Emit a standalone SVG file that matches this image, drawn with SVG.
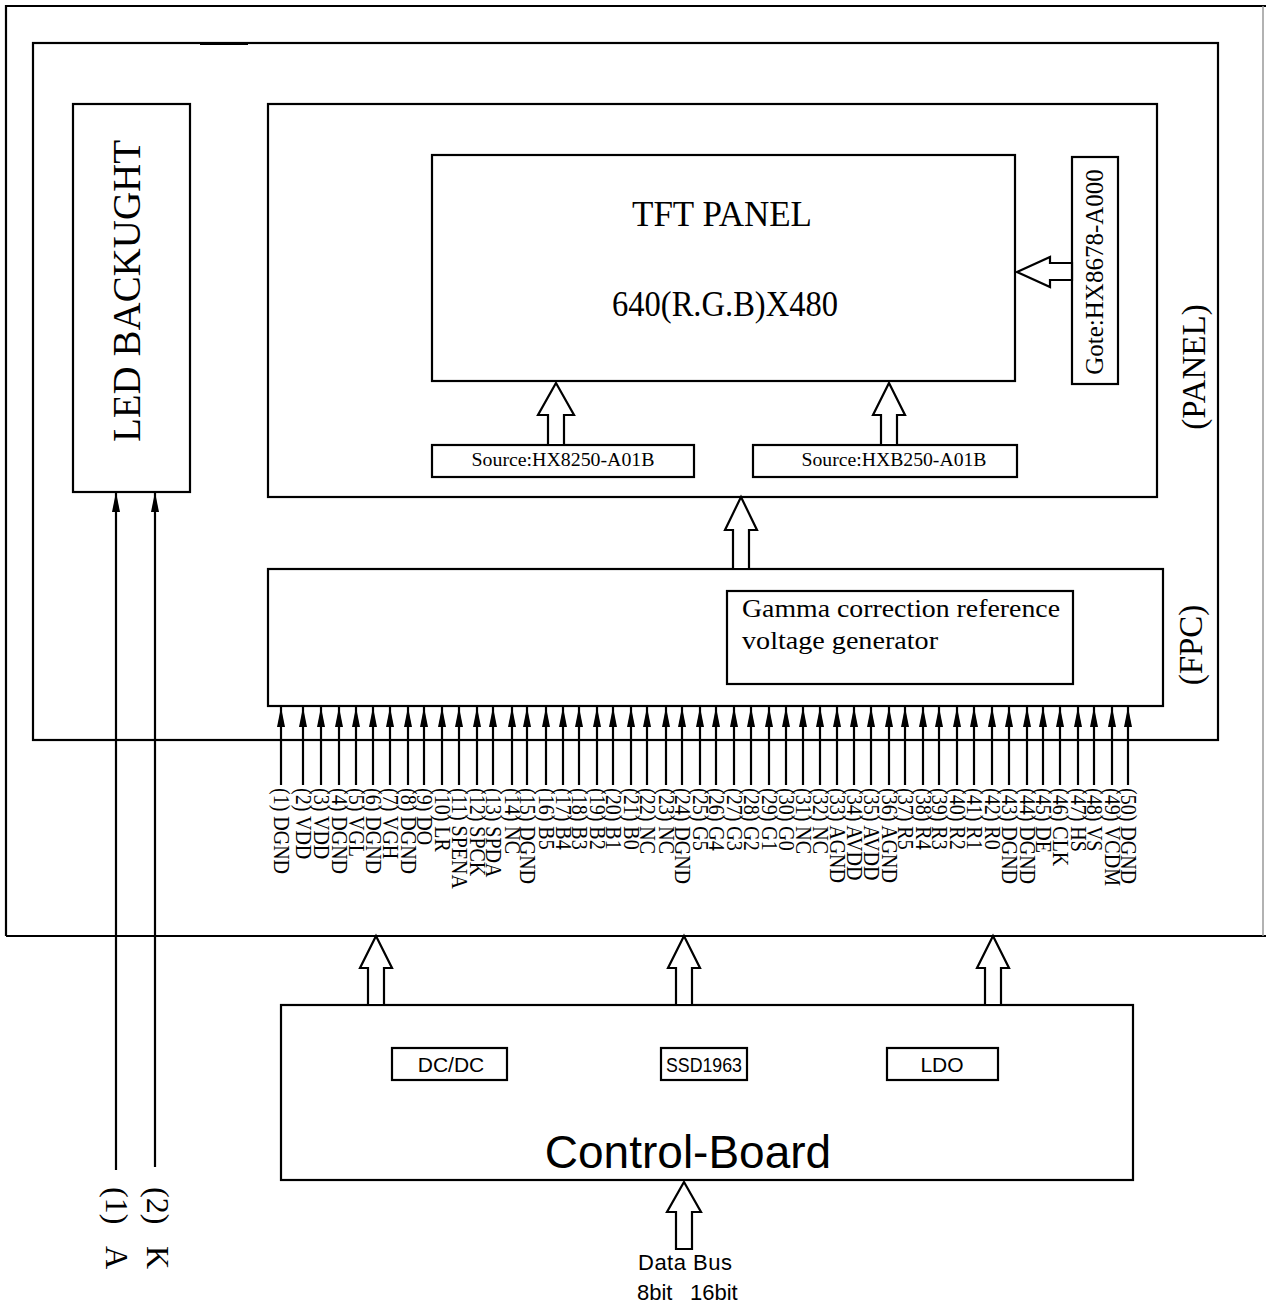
<svg xmlns="http://www.w3.org/2000/svg" width="1266" height="1306" viewBox="0 0 1266 1306">
<style>
.b{fill:none;stroke:#000;stroke-width:2.2}
.w{fill:#fff;stroke:#000;stroke-width:2.2}
.ln{fill:none;stroke:#000;stroke-width:2.2}
.ser{font-family:"Liberation Serif","Times New Roman",serif;fill:#000}
.san{font-family:"Liberation Sans",Arial,sans-serif;fill:#000}
.pin{font-family:"Liberation Serif","Times New Roman",serif;font-size:20px;fill:#000}
</style>
<defs>
<marker id="ah" viewBox="0 0 20 8" refX="20" refY="4" markerWidth="20" markerHeight="8" markerUnits="userSpaceOnUse" orient="auto">
<path d="M0,0 L20,4 L0,8 Z" fill="#000"/>
</marker>
</defs>
<rect width="1266" height="1306" fill="#fff"/>
<g id="outer-frame">
<path class="b" d="M6,936 L6,6 L1266,6"/>
<line x1="6" y1="936" x2="1266" y2="936" stroke="#000" stroke-width="2.2"/>
<line x1="1263" y1="6" x2="1263" y2="936" stroke="#999" stroke-width="1.5"/>
</g>
<g id="panel-frame">
<rect class="b" x="33" y="43" width="1185" height="697"/>
<line x1="200" y1="43.5" x2="248" y2="43.5" stroke="#000" stroke-width="3"/>
<text class="ser" font-size="33" transform="translate(1205,367) rotate(-90)" text-anchor="middle">(PANEL)</text>
<text class="ser" font-size="33" transform="translate(1202,645) rotate(-90)" text-anchor="middle">(FPC)</text>
</g>
<g id="led-backlight">
<rect class="b" x="73" y="104" width="117" height="388"/>
<text class="ser" font-size="40" transform="translate(140,291) rotate(-90)" text-anchor="middle" textLength="302" lengthAdjust="spacingAndGlyphs">LED BACKUGHT</text>
</g>
<g id="panel-box">
<rect class="b" x="268" y="104" width="889" height="393"/>
</g>
<g id="tft-panel">
<rect class="b" x="432" y="155" width="583" height="226"/>
<text class="ser" font-size="36" x="722" y="226" text-anchor="middle" textLength="180" lengthAdjust="spacingAndGlyphs">TFT PANEL</text>
<text class="ser" font-size="36" x="725" y="316" text-anchor="middle" textLength="226" lengthAdjust="spacingAndGlyphs">640(R.G.B)X480</text>
</g>
<g id="gate">
<rect class="b" x="1072" y="157" width="46" height="227"/>
<text class="ser" font-size="25" transform="translate(1103,272) rotate(-90)" text-anchor="middle">Gote:HX8678-A000</text>
</g>
<g id="source1">
<rect class="b" x="432" y="445" width="262" height="32"/>
<text class="ser" font-size="18" x="563" y="466" text-anchor="middle" textLength="183" lengthAdjust="spacingAndGlyphs">Source:HX8250-A01B</text>
</g>
<g id="source2">
<rect class="b" x="753" y="445" width="264" height="32"/>
<text class="ser" font-size="18" x="894" y="466" text-anchor="middle" textLength="185" lengthAdjust="spacingAndGlyphs">Source:HXB250-A01B</text>
</g>
<g id="fpc">
<rect class="b" x="268" y="569" width="895" height="137"/>
</g>
<g id="gamma">
<rect class="b" x="727" y="591" width="346" height="93"/>
<text class="ser" font-size="26" x="742" y="617" textLength="318" lengthAdjust="spacingAndGlyphs">Gamma correction reference</text>
<text class="ser" font-size="26" x="742" y="649" textLength="196" lengthAdjust="spacingAndGlyphs">voltage generator</text>
</g>
<g id="control-board">
<rect class="b" x="281" y="1005" width="852" height="175"/>
<text class="san" font-size="46" x="688" y="1168" text-anchor="middle">Control-Board</text>
</g>
<g id="dcdc">
<rect class="b" x="392" y="1048" width="115" height="32"/>
<text class="san" font-size="21" x="451" y="1072" text-anchor="middle">DC/DC</text>
</g>
<g id="ssd1963">
<rect class="b" x="661" y="1048" width="86" height="32"/>
<text class="san" font-size="20" x="704" y="1072" text-anchor="middle" textLength="76" lengthAdjust="spacingAndGlyphs">SSD1963</text>
</g>
<g id="ldo">
<rect class="b" x="887" y="1048" width="111" height="32"/>
<text class="san" font-size="21" x="942" y="1072" text-anchor="middle">LDO</text>
</g>
<g id="connectors">
<path class="w" d="M1017,272 L1050,257 L1050,263 L1072,263 L1072,280 L1050,280 L1050,287 Z"/>
<path class="w" d="M556,383 L574,415 L564,415 L564,445 L548,445 L548,415 L538,415 Z"/>
<path class="w" d="M889,383 L905,415 L897,415 L897,445 L881,445 L881,415 L873,415 Z"/>
<path class="w" d="M741,497 L757,530 L749,530 L749,569 L733,569 L733,530 L725,530 Z"/>
<path class="w" d="M376,936 L392,968 L384,968 L384,1005 L368,1005 L368,968 L360,968 Z"/>
<path class="w" d="M684,936 L700,968 L692,968 L692,1005 L676,1005 L676,968 L668,968 Z"/>
<path class="w" d="M993,936 L1009,968 L1001,968 L1001,1005 L985,1005 L985,968 L977,968 Z"/>
<path class="w" d="M684,1182 L701,1212 L692,1212 L692,1249 L676,1249 L676,1212 L667,1212 Z"/>
<line class="ln" x1="116" y1="1170" x2="116" y2="492" marker-end="url(#ah)"/>
<line class="ln" x1="155" y1="1167" x2="155" y2="492" marker-end="url(#ah)"/>
<g id="pins">
<line class="ln" x1="281" y1="785" x2="281" y2="707" marker-end="url(#ah)"/>
<line class="ln" x1="303" y1="785" x2="303" y2="707" marker-end="url(#ah)"/>
<line class="ln" x1="321" y1="785" x2="321" y2="707" marker-end="url(#ah)"/>
<line class="ln" x1="339" y1="785" x2="339" y2="707" marker-end="url(#ah)"/>
<line class="ln" x1="356" y1="785" x2="356" y2="707" marker-end="url(#ah)"/>
<line class="ln" x1="373" y1="785" x2="373" y2="707" marker-end="url(#ah)"/>
<line class="ln" x1="390" y1="785" x2="390" y2="707" marker-end="url(#ah)"/>
<line class="ln" x1="408" y1="785" x2="408" y2="707" marker-end="url(#ah)"/>
<line class="ln" x1="424" y1="785" x2="424" y2="707" marker-end="url(#ah)"/>
<line class="ln" x1="442" y1="785" x2="442" y2="707" marker-end="url(#ah)"/>
<line class="ln" x1="459" y1="785" x2="459" y2="707" marker-end="url(#ah)"/>
<line class="ln" x1="477" y1="785" x2="477" y2="707" marker-end="url(#ah)"/>
<line class="ln" x1="493" y1="785" x2="493" y2="707" marker-end="url(#ah)"/>
<line class="ln" x1="512" y1="785" x2="512" y2="707" marker-end="url(#ah)"/>
<line class="ln" x1="527" y1="785" x2="527" y2="707" marker-end="url(#ah)"/>
<line class="ln" x1="546" y1="785" x2="546" y2="707" marker-end="url(#ah)"/>
<line class="ln" x1="563" y1="785" x2="563" y2="707" marker-end="url(#ah)"/>
<line class="ln" x1="579" y1="785" x2="579" y2="707" marker-end="url(#ah)"/>
<line class="ln" x1="597" y1="785" x2="597" y2="707" marker-end="url(#ah)"/>
<line class="ln" x1="613" y1="785" x2="613" y2="707" marker-end="url(#ah)"/>
<line class="ln" x1="631" y1="785" x2="631" y2="707" marker-end="url(#ah)"/>
<line class="ln" x1="647" y1="785" x2="647" y2="707" marker-end="url(#ah)"/>
<line class="ln" x1="666" y1="785" x2="666" y2="707" marker-end="url(#ah)"/>
<line class="ln" x1="682" y1="785" x2="682" y2="707" marker-end="url(#ah)"/>
<line class="ln" x1="700" y1="785" x2="700" y2="707" marker-end="url(#ah)"/>
<line class="ln" x1="716" y1="785" x2="716" y2="707" marker-end="url(#ah)"/>
<line class="ln" x1="734" y1="785" x2="734" y2="707" marker-end="url(#ah)"/>
<line class="ln" x1="751" y1="785" x2="751" y2="707" marker-end="url(#ah)"/>
<line class="ln" x1="769" y1="785" x2="769" y2="707" marker-end="url(#ah)"/>
<line class="ln" x1="786" y1="785" x2="786" y2="707" marker-end="url(#ah)"/>
<line class="ln" x1="803" y1="785" x2="803" y2="707" marker-end="url(#ah)"/>
<line class="ln" x1="820" y1="785" x2="820" y2="707" marker-end="url(#ah)"/>
<line class="ln" x1="837" y1="785" x2="837" y2="707" marker-end="url(#ah)"/>
<line class="ln" x1="854" y1="785" x2="854" y2="707" marker-end="url(#ah)"/>
<line class="ln" x1="871" y1="785" x2="871" y2="707" marker-end="url(#ah)"/>
<line class="ln" x1="889" y1="785" x2="889" y2="707" marker-end="url(#ah)"/>
<line class="ln" x1="905" y1="785" x2="905" y2="707" marker-end="url(#ah)"/>
<line class="ln" x1="923" y1="785" x2="923" y2="707" marker-end="url(#ah)"/>
<line class="ln" x1="939" y1="785" x2="939" y2="707" marker-end="url(#ah)"/>
<line class="ln" x1="957" y1="785" x2="957" y2="707" marker-end="url(#ah)"/>
<line class="ln" x1="974" y1="785" x2="974" y2="707" marker-end="url(#ah)"/>
<line class="ln" x1="992" y1="785" x2="992" y2="707" marker-end="url(#ah)"/>
<line class="ln" x1="1009" y1="785" x2="1009" y2="707" marker-end="url(#ah)"/>
<line class="ln" x1="1027" y1="785" x2="1027" y2="707" marker-end="url(#ah)"/>
<line class="ln" x1="1043" y1="785" x2="1043" y2="707" marker-end="url(#ah)"/>
<line class="ln" x1="1060" y1="785" x2="1060" y2="707" marker-end="url(#ah)"/>
<line class="ln" x1="1078" y1="785" x2="1078" y2="707" marker-end="url(#ah)"/>
<line class="ln" x1="1094" y1="785" x2="1094" y2="707" marker-end="url(#ah)"/>
<line class="ln" x1="1112" y1="785" x2="1112" y2="707" marker-end="url(#ah)"/>
<line class="ln" x1="1128" y1="785" x2="1128" y2="707" marker-end="url(#ah)"/>
</g>
</g>
<g id="pin-labels">
<text class="pin" transform="translate(273.5,788) rotate(90) scale(1,1.2)">(1) DGND</text>
<text class="pin" transform="translate(295.5,788) rotate(90) scale(1,1.2)">(2) VDD</text>
<text class="pin" transform="translate(313.5,788) rotate(90) scale(1,1.2)">(3) VDD</text>
<text class="pin" transform="translate(331.5,788) rotate(90) scale(1,1.2)">(4) DGND</text>
<text class="pin" transform="translate(348.5,788) rotate(90) scale(1,1.2)">(5) VGL</text>
<text class="pin" transform="translate(365.5,788) rotate(90) scale(1,1.2)">(6) DGND</text>
<text class="pin" transform="translate(382.5,788) rotate(90) scale(1,1.2)">(7) VGH</text>
<text class="pin" transform="translate(400.5,788) rotate(90) scale(1,1.2)">(8) DGND</text>
<text class="pin" transform="translate(416.5,788) rotate(90) scale(1,1.2)">(9) DO</text>
<text class="pin" transform="translate(434.5,788) rotate(90) scale(1,1.2)">(10) LR</text>
<text class="pin" transform="translate(451.5,788) rotate(90) scale(1,1.2)">(11) SPENA</text>
<text class="pin" transform="translate(469.5,788) rotate(90) scale(1,1.2)">(12) SPCK</text>
<text class="pin" transform="translate(485.5,788) rotate(90) scale(1,1.2)">(13) SPDA</text>
<text class="pin" transform="translate(504.5,788) rotate(90) scale(1,1.2)">(14) NC</text>
<text class="pin" transform="translate(519.5,788) rotate(90) scale(1,1.2)">(15) DGND</text>
<text class="pin" transform="translate(538.5,788) rotate(90) scale(1,1.2)">(16) B5</text>
<text class="pin" transform="translate(555.5,788) rotate(90) scale(1,1.2)">(17) B4</text>
<text class="pin" transform="translate(571.5,788) rotate(90) scale(1,1.2)">(18) B3</text>
<text class="pin" transform="translate(589.5,788) rotate(90) scale(1,1.2)">(19) B2</text>
<text class="pin" transform="translate(605.5,788) rotate(90) scale(1,1.2)">(20) B1</text>
<text class="pin" transform="translate(623.5,788) rotate(90) scale(1,1.2)">(21) B0</text>
<text class="pin" transform="translate(639.5,788) rotate(90) scale(1,1.2)">(22) NC</text>
<text class="pin" transform="translate(658.5,788) rotate(90) scale(1,1.2)">(23) NC</text>
<text class="pin" transform="translate(674.5,788) rotate(90) scale(1,1.2)">(24) DGND</text>
<text class="pin" transform="translate(692.5,788) rotate(90) scale(1,1.2)">(25) G5</text>
<text class="pin" transform="translate(708.5,788) rotate(90) scale(1,1.2)">(26) G4</text>
<text class="pin" transform="translate(726.5,788) rotate(90) scale(1,1.2)">(27) G3</text>
<text class="pin" transform="translate(743.5,788) rotate(90) scale(1,1.2)">(28) G2</text>
<text class="pin" transform="translate(761.5,788) rotate(90) scale(1,1.2)">(29) G1</text>
<text class="pin" transform="translate(778.5,788) rotate(90) scale(1,1.2)">(30) G0</text>
<text class="pin" transform="translate(795.5,788) rotate(90) scale(1,1.2)">(31) NC</text>
<text class="pin" transform="translate(812.5,788) rotate(90) scale(1,1.2)">(32) NC</text>
<text class="pin" transform="translate(829.5,788) rotate(90) scale(1,1.2)">(33) AGND</text>
<text class="pin" transform="translate(846.5,788) rotate(90) scale(1,1.2)">(34) AVDD</text>
<text class="pin" transform="translate(863.5,788) rotate(90) scale(1,1.2)">(35) AVDD</text>
<text class="pin" transform="translate(881.5,788) rotate(90) scale(1,1.2)">(36) AGND</text>
<text class="pin" transform="translate(897.5,788) rotate(90) scale(1,1.2)">(37) R5</text>
<text class="pin" transform="translate(915.5,788) rotate(90) scale(1,1.2)">(38) R4</text>
<text class="pin" transform="translate(931.5,788) rotate(90) scale(1,1.2)">(39) R3</text>
<text class="pin" transform="translate(949.5,788) rotate(90) scale(1,1.2)">(40) R2</text>
<text class="pin" transform="translate(966.5,788) rotate(90) scale(1,1.2)">(41) R1</text>
<text class="pin" transform="translate(984.5,788) rotate(90) scale(1,1.2)">(42) R0</text>
<text class="pin" transform="translate(1001.5,788) rotate(90) scale(1,1.2)">(43) DGND</text>
<text class="pin" transform="translate(1019.5,788) rotate(90) scale(1,1.2)">(44) DGND</text>
<text class="pin" transform="translate(1035.5,788) rotate(90) scale(1,1.2)">(45) DE</text>
<text class="pin" transform="translate(1052.5,788) rotate(90) scale(1,1.2)">(46) CLK</text>
<text class="pin" transform="translate(1070.5,788) rotate(90) scale(1,1.2)">(47) HS</text>
<text class="pin" transform="translate(1086.5,788) rotate(90) scale(1,1.2)">(48) VS</text>
<text class="pin" transform="translate(1104.5,788) rotate(90) scale(1,1.2)">(49) VCDM</text>
<text class="pin" transform="translate(1120.5,788) rotate(90) scale(1,1.2)">(50) DGND</text>
</g>
<g id="led-pin-labels">
<text class="ser" font-size="32" transform="translate(106,1187) rotate(90)">(1)<tspan x="59">A</tspan></text>
<text class="ser" font-size="32" transform="translate(147,1187) rotate(90)">(2)<tspan x="59">K</tspan></text>
</g>
<g id="data-bus-label">
<text class="san" font-size="22" x="685" y="1270" text-anchor="middle" textLength="94">Data Bus</text>
<text class="san" font-size="22" x="637" y="1300">8bit</text>
<text class="san" font-size="22" x="690" y="1300">16bit</text>
</g>
</svg>
